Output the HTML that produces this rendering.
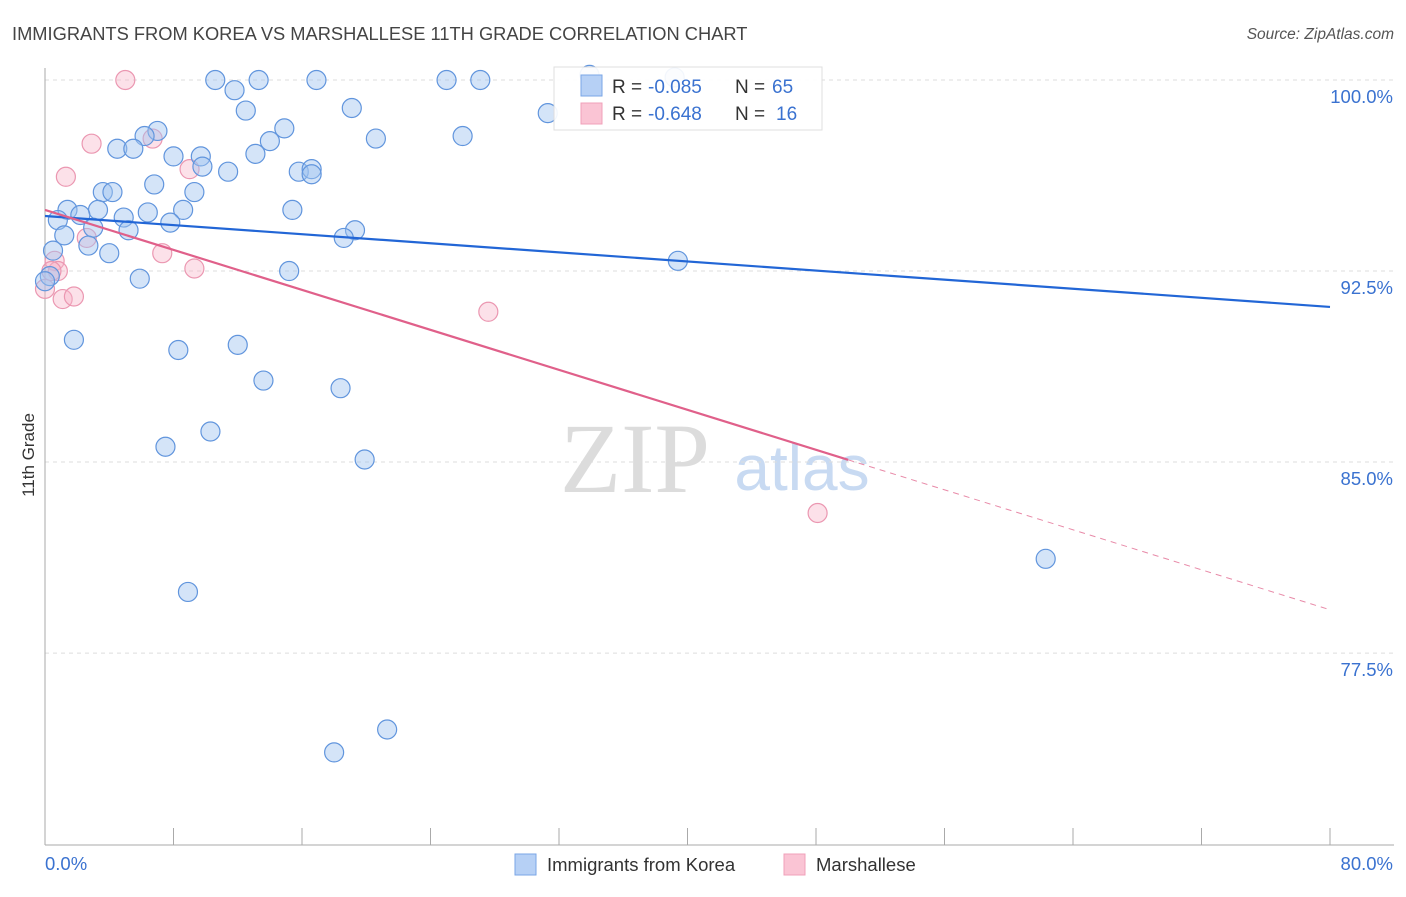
<!DOCTYPE html>
<html><head><meta charset="utf-8"><style>
body{margin:0;background:#fff;font-family:"Liberation Sans",sans-serif;}
</style></head><body>
<svg width="1406" height="892" xmlns="http://www.w3.org/2000/svg" font-family="Liberation Sans, sans-serif">
<text x="12" y="40" font-size="18.3" fill="#444">IMMIGRANTS FROM KOREA VS MARSHALLESE 11TH GRADE CORRELATION CHART</text>
<text x="1394" y="39" font-size="15.5" fill="#555" font-style="italic" text-anchor="end">Source: ZipAtlas.com</text>
<text x="635" y="492" font-size="100" fill="#dcdcdc" style="font-family:'Liberation Serif',serif" text-anchor="middle">ZIP</text>
<text x="802" y="490" font-size="64" fill="#c8daf2" text-anchor="middle">atlas</text>
<g id="grid"></g>
<g id="axes"></g>
<g id="marks"></g>
<text transform="translate(34,455) rotate(-90)" font-size="17" fill="#333" text-anchor="middle">11th Grade</text>
<g>
<rect x="554" y="67" width="268" height="63" fill="#fff" stroke="#ddd" opacity="0.92"/>
<rect x="581" y="75" width="21" height="21" fill="#b6d0f5" stroke="#7aa6e6"/>
<rect x="581" y="103" width="21" height="21" fill="#fac4d4" stroke="#f0a0ba"/>
<text x="612" y="93" font-size="19" fill="#333">R = </text>
<text x="648" y="93" font-size="19" fill="#3a72d0">-0.085</text>
<text x="735" y="93" font-size="19" fill="#333">N = </text>
<text x="772" y="93" font-size="19" fill="#3a72d0">65</text>
<text x="612" y="120" font-size="19" fill="#333">R = </text>
<text x="648" y="120" font-size="19" fill="#3a72d0">-0.648</text>
<text x="735" y="120" font-size="19" fill="#333">N = </text>
<text x="776" y="120" font-size="19" fill="#3a72d0">16</text>
</g>
<g>
<rect x="515" y="854" width="21" height="21" fill="#b6d0f5" stroke="#7aa6e6"/>
<text x="547" y="871" font-size="18.5" fill="#333">Immigrants from Korea</text>
<rect x="784" y="854" width="21" height="21" fill="#fac4d4" stroke="#f0a0ba"/>
<text x="816" y="871" font-size="18.5" fill="#333">Marshallese</text>
</g>
</svg>
<script>
const yTicks=[100,92.5,85,77.5];
const yTickLabels=["100.0%","92.5%","85.0%","77.5%"];
const xTicks=[0,8,16,24,32,40,48,56,64,72,80];
const xEndLabels=["0.0%","80.0%"];
const koreaX=[10.6,13.3,16.9,25.0,27.1,11.8,12.5,19.1,31.3,7.0,6.2,14.9,14.0,20.6,26.0,4.5,5.5,8.0,9.7,13.1,9.8,11.4,15.8,16.6,16.6,6.8,3.6,4.2,9.3,1.4,3.3,8.6,6.4,15.4,0.8,2.2,4.9,7.8,3.0,5.2,19.3,1.2,18.6,0.5,2.7,4.0,39.4,15.2,5.9,0.3,1.8,8.3,12.0,13.6,18.4,10.3,7.5,19.9,62.3,8.9,21.3,18.0,33.9,39.2,0.0];
const koreaY=[100,100,100,100,100,99.6,98.8,98.9,98.7,98.0,97.8,98.1,97.6,97.7,97.8,97.3,97.3,97.0,97.0,97.1,96.6,96.4,96.4,96.5,96.3,95.9,95.6,95.6,95.6,94.9,94.9,94.9,94.8,94.9,94.5,94.7,94.6,94.4,94.2,94.1,94.1,93.9,93.8,93.3,93.5,93.2,92.9,92.5,92.2,92.3,89.8,89.4,89.6,88.2,87.9,86.2,85.6,85.1,81.2,79.9,74.5,73.6,100.2,100.1,92.1];
const marshX=[5.0,2.9,6.7,1.3,9.0,2.6,7.3,9.3,0.6,0.8,0.0,1.1,1.8,27.6,48.1,0.4];
const marshY=[100,97.5,97.7,96.2,96.5,93.8,93.2,92.6,92.9,92.5,91.8,91.4,91.5,90.9,83.0,92.5];
const koreaTrend=[94.66,91.09];
const marshTrend=[94.9,79.2];
const marshSolidEnd=50;
const NS="http://www.w3.org/2000/svg";
const xs=v=>45+v*(1285/80);
const ys=v=>80+(100-v)*25.47;
function mk(tag,attrs,parent){const e=document.createElementNS(NS,tag);for(const k in attrs)e.setAttribute(k,attrs[k]);parent.appendChild(e);return e;}
const grid=document.getElementById('grid'),axes=document.getElementById('axes'),marks=document.getElementById('marks');
yTicks.forEach((t,i)=>{
 const l=mk('line',{x1:45,x2:1394,y1:ys(t),y2:ys(t),stroke:'#ddd','stroke-dasharray':'4,4'},grid);
 
 
 const tx=mk('text',{x:1393,y:ys(t)+23,'font-size':18.5,fill:'#3a72d0','text-anchor':'end'},axes);
 tx.textContent=yTickLabels[i];
 
 
});
const yl=mk('line',{x1:45,x2:45,y1:68,y2:845,stroke:'#aaa'},axes);


const xl=mk('line',{x1:45,x2:1394,y1:845,y2:845,stroke:'#aaa'},axes);


xTicks.forEach(t=>{
 const l=mk('line',{x1:xs(t),x2:xs(t),y1:828,y2:845,stroke:'#aaa'},axes);
 
 
});
const x0=mk('text',{x:45,y:870,'font-size':18.5,fill:'#3a72d0'},axes);x0.textContent=xEndLabels[0];


const x1=mk('text',{x:1393,y:870,'font-size':18.5,fill:'#3a72d0','text-anchor':'end'},axes);x1.textContent=xEndLabels[1];


marshX.forEach((x,i)=>{
 const c=mk('circle',{cx:xs(x),cy:ys(marshY[i]),r:9.5,fill:'rgba(248,180,200,0.4)',stroke:'#eb97b1','stroke-width':1.2},marks);
 
 
});
koreaX.forEach((x,i)=>{
 const c=mk('circle',{cx:xs(x),cy:ys(koreaY[i]),r:9.5,fill:'rgba(160,196,240,0.45)',stroke:'#6195dd','stroke-width':1.2},marks);
 
 
});
const bt=mk('line',{x1:xs(0),y1:ys(koreaTrend[0]),x2:xs(80),y2:ys(koreaTrend[1]),stroke:'#2266d6','stroke-width':2.2},marks);


const pm=marshTrend[0]+(marshTrend[1]-marshTrend[0])*marshSolidEnd/80;
const pt=mk('line',{x1:xs(0),y1:ys(marshTrend[0]),x2:xs(marshSolidEnd),y2:ys(pm),stroke:'#e0608a','stroke-width':2.2},marks);


const pd=mk('line',{x1:xs(marshSolidEnd),y1:ys(pm),x2:xs(80),y2:ys(marshTrend[1]),stroke:'#e88aa8','stroke-width':1,'stroke-dasharray':'6,5'},marks);


</script>
</body></html>
